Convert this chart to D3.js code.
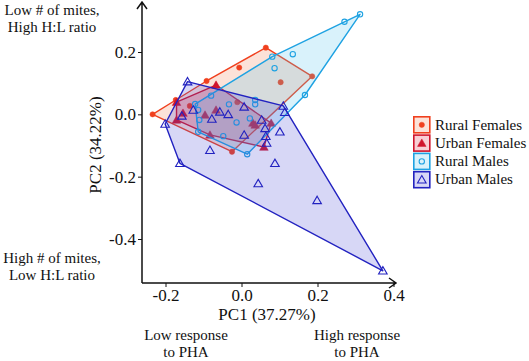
<!DOCTYPE html>
<html>
<head>
<meta charset="utf-8">
<script src="https://cdn.jsdelivr.net/npm/d3@7"></script>
<style>
  body { margin: 0; background: #fff; }
  text { font-family: "Liberation Serif", "Times New Roman", serif; }
</style>
</head>
<body>
<div id="chart"></div>
<script>
// PCA scores (PC1, PC2)
const ruralFemales = [
    [-0.234, 0.000], [-0.173, 0.046], [-0.092, 0.107], [-0.006, 0.150],
    [0.064, 0.214], [0.186, 0.122], [0.103, 0.103], [-0.136, 0.027],
    [-0.011, 0.039], [-0.025, -0.120],
];
const urbanFemales = [
    [-0.171, 0.039], [-0.067, 0.094], [0.078, -0.028], [0.059, -0.105],
    [-0.083, -0.066], [-0.171, -0.018], [-0.154, 0.004], [-0.096, -0.002],
    [-0.067, 0.014], [0.030, -0.028], [0.036, -0.034],
];
const ruralMales = [
    [0.312, 0.321], [0.271, 0.297], [0.081, 0.185], [0.135, 0.193],
    [0.087, 0.148], [0.167, 0.062], [0.015, -0.128], [-0.114, -0.056],
    [-0.122, 0.033], [-0.114, 0.014], [-0.111, -0.018], [-0.080, 0.060],
    [-0.033, 0.032], [0.036, 0.032], [0.036, 0.046], [-0.013, -0.026],
    [-0.048, -0.070], [0.022, -0.013],
];
const urbanMales = [
    [-0.142, 0.105], [0.110, 0.027], [0.114, 0.007], [0.372, -0.502],
    [-0.162, -0.157], [-0.201, -0.031], [-0.157, -0.005], [-0.127, 0.014],
    [-0.078, -0.015], [-0.057, 0.008], [-0.035, 0.000], [0.007, 0.024],
    [0.007, -0.066], [0.053, -0.018], [0.062, -0.045], [0.064, -0.070],
    [0.101, -0.056], [-0.083, -0.115], [0.088, -0.157], [0.044, -0.222],
    [0.199, -0.276], [0.066, -0.092],
];

const groupNames = ['Rural Females', 'Urban Females', 'Rural Males', 'Urban Males'];
const xTicks = [-0.2, 0.0, 0.2, 0.4];
const yTicks = [-0.4, -0.2, 0.0, 0.2];

const WIDTH = 529;
const HEIGHT = 361;
const FILL_OPACITY = 0.22;

const groups = [
    { name: groupNames[0], data: ruralFemales, stroke: '#f0401e', fill: '#f27a4c', shape: 'circle', solid: true },
    { name: groupNames[1], data: urbanFemales, stroke: '#d0142c', fill: '#e0203c', shape: 'triangle', solid: true },
    { name: groupNames[2], data: ruralMales, stroke: '#1ea2e2', fill: '#52c6ee', shape: 'circle', solid: false },
    { name: groupNames[3], data: urbanMales, stroke: '#2222c0', fill: '#4747d6', shape: 'triangle', solid: false },
];

const svg = d3.select('#chart')
    .append('svg')
        .attr('width', WIDTH)
        .attr('height', HEIGHT);

const x = d3.scaleLinear().domain([-0.2, 0.4]).range([165.5, 393.5]);
const y = d3.scaleLinear().domain([-0.4, 0.2]).range([239, 52]);

const axisX = 142;
const axisY = 283;

// hulls and points, one group at a time
const symbolFor = (g) => d3.symbol()
    .type(g.shape === 'circle' ? d3.symbolCircle : d3.symbolTriangle)
    .size(g.shape === 'circle' ? 22 : 32);

groups.forEach(function (g) {
    const hull = d3.polygonHull(g.data.map(d => [x(d[0]), y(d[1])]));
    svg.append('path')
        .attr('d', 'M' + hull.join('L') + 'Z')
        .attr('fill', g.fill)
        .attr('fill-opacity', FILL_OPACITY)
        .attr('stroke', g.stroke)
        .attr('stroke-width', 1.4)
        .attr('stroke-linejoin', 'round');

    svg.append('g')
        .selectAll('path')
        .data(g.data)
        .join('path')
            .attr('transform', d => 'translate(' + x(d[0]) + ',' + (y(d[1]) + (g.shape === 'triangle' ? 0.8 : 0)) + ')')
            .attr('d', symbolFor(g))
            .attr('fill', g.solid ? g.stroke : 'none')
            .attr('stroke', g.stroke)
            .attr('stroke-width', g.solid ? 0.5 : 1.1);
});

// axes
const xAxis = d3.axisBottom(x)
    .tickValues(xTicks)
    .tickSize(4)
    .tickFormat(d => d.toFixed(1));

svg.append('g')
    .attr('transform', 'translate(0,' + axisY + ')')
    .call(xAxis)
    .call(g => g.select('.domain').remove())
    .call(g => g.selectAll('text')
        .attr('font-size', 17)
        .attr('fill', '#111')
        .attr('dy', null)
        .attr('y', 18));

const yAxis = d3.axisLeft(y)
    .tickValues(yTicks)
    .tickSize(4)
    .tickFormat(d => d.toFixed(1));

svg.append('g')
    .attr('transform', 'translate(' + axisX + ',0)')
    .call(yAxis)
    .call(g => g.select('.domain').remove())
    .call(g => g.selectAll('text')
        .attr('font-size', 17)
        .attr('fill', '#111')
        .attr('x', -6));

svg.selectAll('.tick line').attr('stroke', '#111');

// axis lines with open arrowheads
svg.append('path')
    .attr('d', 'M' + axisX + ',' + axisY + 'V2 M' + (axisX - 5) + ',9 L' + axisX + ',2 L' + (axisX + 5) + ',9'
        + ' M' + axisX + ',' + axisY + 'H396 M389,' + (axisY - 5) + ' L396,' + axisY + ' L389,' + (axisY + 5))
    .attr('fill', 'none')
    .attr('stroke', '#111')
    .attr('stroke-width', 1.5);

// axis titles
svg.append('text')
    .text('PC1 (37.27%)')
    .attr('text-anchor', 'middle')
    .attr('font-size', 17)
    .attr('fill', '#111')
    .attr('x', 267)
    .attr('y', 320);

svg.append('text')
    .text('PC2 (34.22%)')
    .attr('transform', 'rotate(-90)')
    .attr('text-anchor', 'middle')
    .attr('font-size', 17)
    .attr('fill', '#111')
    .attr('x', -145)
    .attr('y', 101);

// corner annotations
const notes = [
    { lines: ['Low # of mites,', 'High H:L ratio'], x: 52, y: 15 },
    { lines: ['High # of mites,', 'Low H:L ratio'], x: 52, y: 263 },
    { lines: ['Low response', 'to PHA'], x: 186, y: 340 },
    { lines: ['High response', 'to PHA'], x: 357, y: 340 },
];

notes.forEach(function (n) {
    const t = svg.append('text')
        .attr('text-anchor', 'middle')
        .attr('font-size', 15)
        .attr('fill', '#111');
    n.lines.forEach(function (line, i) {
        t.append('tspan')
            .attr('x', n.x)
            .attr('y', n.y + i * 16.5)
            .text(line);
    });
});

// legend
const legend = svg.append('g')
    .attr('transform', 'translate(413,116)');

groups.forEach(function (g, i) {
    const row = legend.append('g')
        .attr('transform', 'translate(0,' + (i * 18.3) + ')');
    row.append('rect')
        .attr('x', 0.8)
        .attr('y', 0.8)
        .attr('width', 16)
        .attr('height', 16)
        .attr('fill', g.fill)
        .attr('fill-opacity', FILL_OPACITY)
        .attr('stroke', g.stroke)
        .attr('stroke-width', 1.6);
    row.append('path')
        .attr('transform', 'translate(8.8,' + (g.shape === 'triangle' ? 9.6 : 8.8) + ')')
        .attr('d', symbolFor(g))
        .attr('fill', g.solid ? g.stroke : 'none')
        .attr('stroke', g.stroke)
        .attr('stroke-width', g.solid ? 0.5 : 1.1);
    row.append('text')
        .text(g.name)
        .attr('font-size', 15)
        .attr('fill', '#111')
        .attr('x', 22)
        .attr('y', 13.5);
});
</script>
</body>
</html>
